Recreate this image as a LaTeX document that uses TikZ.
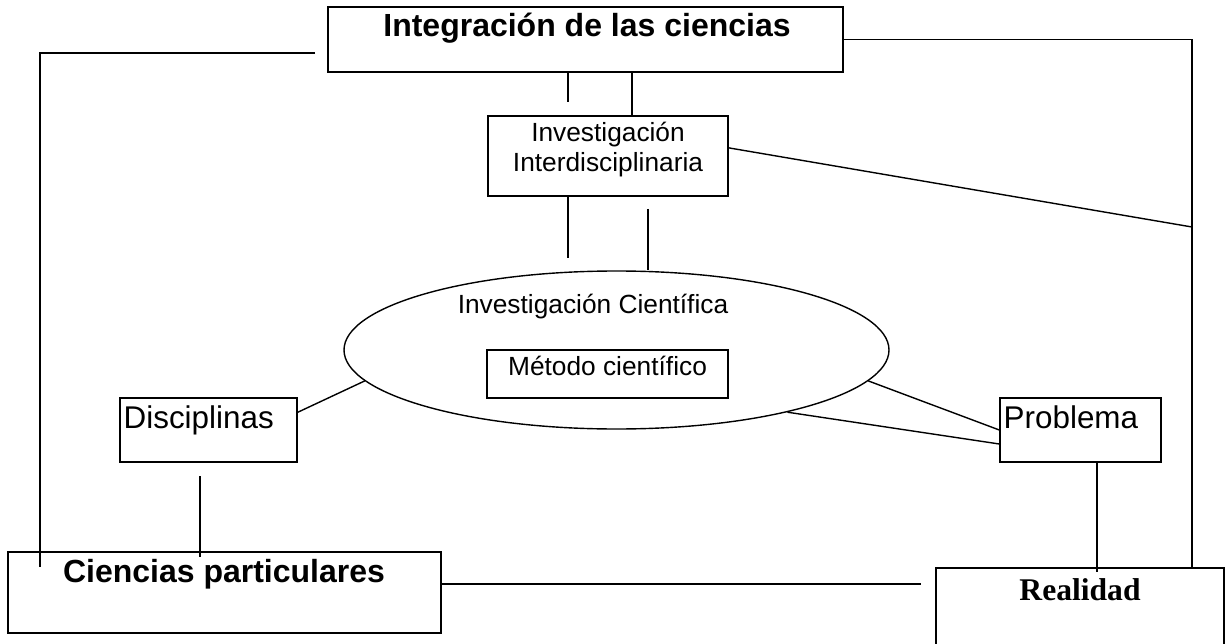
\documentclass[tikz,border=0pt]{standalone}
\usepackage{fontspec}
\setmainfont{Liberation Sans}
\newfontfamily\serifrm{Liberation Serif}
\usetikzlibrary{shapes.geometric,calc}
\begin{document}
\begin{tikzpicture}[x=1pt,y=-1pt,line width=1.4pt,
  box/.style={draw,rectangle,inner sep=0pt},
  oval/.style={draw,ellipse,inner sep=0pt},
  txt/.style={inner sep=0pt,font=\fontsize{26.3}{30}\selectfont},
  midtxt/.style={inner sep=0pt,font=\fontsize{31.4}{36}\selectfont},
  bigtxt/.style={inner sep=0pt,font=\fontsize{32}{36}\selectfont\bfseries},
  sertxt/.style={inner sep=0pt,font=\fontsize{31.6}{36}\selectfont\serifrm\bfseries},
  conn/.style={draw,line width=1.4pt}]
\useasboundingbox (0,0) rectangle (1228,644);
\fill[white] (0,0) rectangle (1228,644);
% boxes
\node[box,minimum width=515pt,minimum height=65pt] (integ) at (585.5,39.5) {};
\node[box,minimum width=240pt,minimum height=80pt] (inter) at (608,156) {};
\node[oval,minimum width=545pt,minimum height=158pt] (ell) at (616.5,350) {};
\node[box,minimum width=241pt,minimum height=48pt] (metodo) at (607.5,374) {};
\node[box,minimum width=177pt,minimum height=64pt] (disc) at (208.5,430) {};
\node[box,minimum width=161pt,minimum height=64pt] (prob) at (1080.5,430) {};
\node[box,minimum width=433pt,minimum height=81pt] (cp) at (224.5,592.5) {};
\node[box,minimum width=288pt,minimum height=80pt] (real) at (1080,608) {};
% texts
\node[bigtxt,anchor=base] (tinteg) at (587,37) {Integración de las ciencias};
\node[txt,anchor=base,align=center] (tinter) at (608,172) {Investigación\\Interdisciplinaria};
\node[txt,anchor=base] (tcient) at (593,313) {Investigación Científica};
\node[txt,anchor=base] (tmetodo) at (607.5,375) {Método científico};
\node[midtxt,anchor=base west] (tdisc) at (123,428) {Disciplinas};
\node[midtxt,anchor=base west] (tprob) at (1003,428) {Problema};
\node[bigtxt,anchor=base] (tcp) at (224,582) {Ciencias particulares};
\node[sertxt,anchor=base] (treal) at (1080,600) {Realidad};
% free ends
\coordinate (l1) at (315,53);
\coordinate (l2) at (40,567);
\coordinate (rv) at (1192,568);
\coordinate (j1) at (1192,227);
\coordinate (a1) at (568,102);
\coordinate (a2) at (632,0);
\coordinate (b1) at (568,258);
\coordinate (b2) at (648,209);
\coordinate (d1) at (200,476);
\coordinate (d2) at (200,557);
\coordinate (p1) at (1097,461);
\coordinate (p2) at (1097,572);
\coordinate (h1) at (921,584);
% connectors
\draw[conn] (l1) -| (l2);
\draw[conn] (integ.east) -| (rv);
\draw[conn] ($(inter.north east)!0.4!(inter.south east)$) -- (j1);
\draw[conn] (a1 |- integ.south) -- (a1);
\draw[conn] (integ.south -| a2) -- (inter.north -| a2);
\draw[conn] (inter.south -| b1) -- (b1);
\draw[conn] (b2) -- (b2 |- ell.north);
\draw[conn] ($(disc.north east)+(0,15)$) -- (ell.187);
\draw[conn] (ell.353) -- (prob.west);
\draw[conn] (ell.340.6) -- ($(prob.west)+(0,14)$);
\draw[conn] (d1) -- (d2);
\draw[conn] (p1) -- (p2);
\draw[conn] (cp.east |- h1) -- (h1);
\end{tikzpicture}
\end{document}
